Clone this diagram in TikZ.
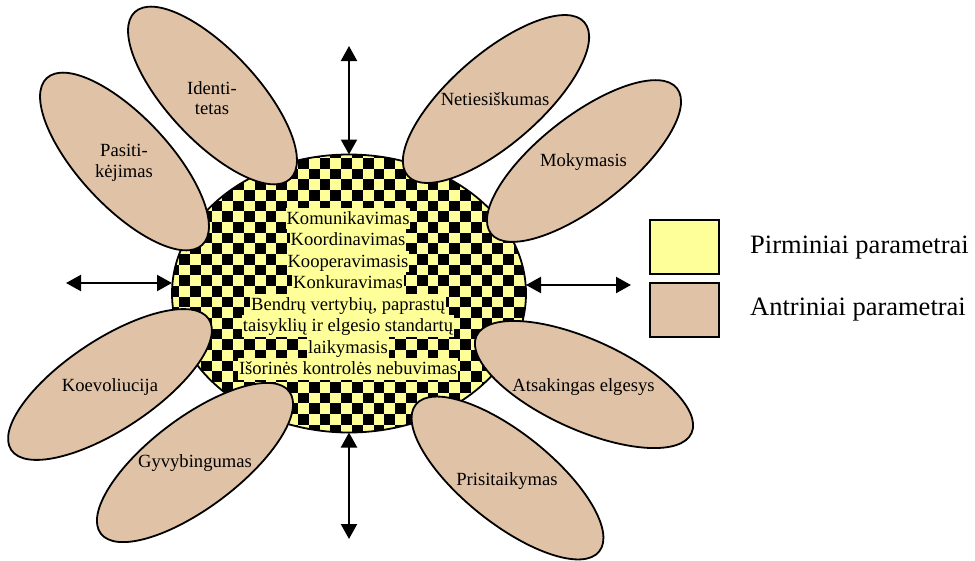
\documentclass[tikz,border=0pt]{standalone}
\usepackage{fontspec}
\setmainfont{Liberation Serif}
\usetikzlibrary{shapes.geometric,arrows.meta}
\definecolor{primary}{RGB}{255,255,153}
\definecolor{secondary}{RGB}{224,194,166}
\tikzset{
  petal/.style={ellipse, draw=black, line width=1.8pt, fill=secondary, inner sep=0pt, outer sep=0pt},
  ptext/.style={font=\fontsize{18.6}{20.5}\selectfont, align=center, inner sep=0pt},
  linebox/.style={fill=primary, font=\fontsize{18.6}{21.5}\selectfont, inner xsep=1pt, inner ysep=0pt, text height=16.5pt, text depth=5pt},
  dbl/.style={line width=2.2pt, {Triangle[width=16pt,length=15pt]}-{Triangle[width=16pt,length=15pt]}},
  legbox/.style={draw=black, line width=1.8pt, minimum width=69, minimum height=54, inner sep=0pt},
  legtext/.style={font=\fontsize{26.5}{30}\selectfont, anchor=west, inner sep=0pt},
}
\begin{document}
\begin{tikzpicture}[x=1pt,y=-1pt]
\useasboundingbox[fill=white] (0,0) rectangle (975,560);
% checkered core
\begin{scope}
  \clip (349,293.5) ellipse [x radius=177, y radius=139];
  \fill[primary] (349,293.5) ellipse [x radius=177, y radius=139];
  \foreach \j in {0,...,27}{
    \pgfmathtruncatemacro{\off}{mod(\j,2)}
    \foreach \i in {0,...,17}{
      \fill[black] ({168.4+(2*\i+\off)*10.8},{147.3+(\j-1)*10.67}) rectangle ++(10.8,10.67);
    }
  }
\end{scope}
\node[ellipse, draw=black, line width=1.8pt, minimum width=354, minimum height=278, inner sep=0pt, outer sep=0pt] (core) at (349,293.5) {};
% arrows
\coordinate (atop) at (349,46);
\coordinate (abot) at (349,539);
\coordinate (aleft) at (66,283);
\coordinate (aright) at (631,285);
\draw[dbl] (atop) -- (core.north);
\draw[dbl] (core.south) -- (abot);
\draw[dbl] (aleft) -- (core.west |- aleft);
\draw[dbl] (core.east |- aright) -- (aright);
% petals
\node[petal, minimum width=228, minimum height=90, rotate=-47] (pid) at (212.5,95.5) {};
\node[petal, minimum width=228, minimum height=90, rotate=-47] (ppa) at (124.5,161.5) {};
\node[petal, minimum width=234, minimum height=90, rotate=41] (pne) at (496,99) {};
\node[petal, minimum width=236, minimum height=90, rotate=38] (pmo) at (584,161) {};
\node[petal, minimum width=237, minimum height=90, rotate=33.5] (pko) at (110,384.5) {};
\node[petal, minimum width=236, minimum height=90, rotate=37] (pgy) at (195,462.5) {};
\node[petal, minimum width=236, minimum height=90, rotate=-24.3] (pat) at (584,384.5) {};
\node[petal, minimum width=235, minimum height=90, rotate=-38.7] (ppr) at (507.5,478) {};
% petal labels
\node[ptext] (tid) at (212,98) {Identi-\\tetas};
\node[ptext] (tpa) at (124,163) {Pasiti-\\kėjimas};
\node[ptext] (tne) at (495,99) {Netiesiškumas};
\node[ptext] (tmo) at (583.5,162) {Mokymasis};
\node[ptext] (tko) at (110,387) {Koevoliucija};
\node[ptext] (tgy) at (195,463) {Gyvybingumas};
\node[ptext] (tat) at (583.5,387) {Atsakingas elgesys};
\node[ptext] (tpr) at (507,481) {Prisitaikymas};
% core text lines
\node[linebox] (l1) at (348,218.3) {Komunikavimas};
\node[linebox] (l2) at (348,239.8) {Koordinavimas};
\node[linebox] (l3) at (348,261.3) {Kooperavimasis};
\node[linebox] (l4) at (348,282.8) {Konkuravimas};
\node[linebox] (l5) at (348,304.3) {Bendrų vertybių, paprastų};
\node[linebox] (l6) at (348,325.8) {taisyklių ir elgesio standartų};
\node[linebox] (l7) at (348,347.3) {laikymasis};
\node[linebox] (l8) at (348,368.8) {Išorinės kontrolės nebuvimas};
% legend
\node[legbox, fill=primary] (lp) at (684.5,247) {};
\node[legbox, fill=secondary] (ls) at (684.5,310) {};
\node[legtext] (tp) at (750,247.5) {Pirminiai parametrai};
\node[legtext] (ts) at (750,310) {Antriniai parametrai};
\end{tikzpicture}
\end{document}
